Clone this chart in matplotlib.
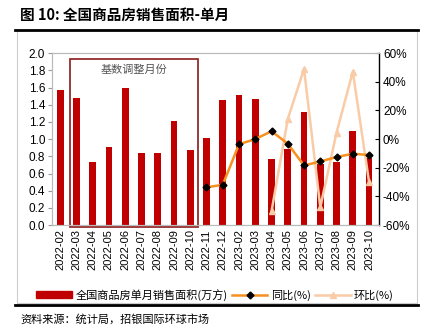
import matplotlib
matplotlib.use("Agg")
import matplotlib.pyplot as plt
from matplotlib.lines import Line2D
from matplotlib.patches import Rectangle
from matplotlib.ticker import FuncFormatter

plt.rcParams["font.family"] = ["Liberation Sans", "Noto Sans CJK SC", "DejaVu Sans"]
CJK = ["Noto Sans CJK SC", "DejaVu Sans"]

# ── data ──────────────────────────────────────────────────────────────
months = ["2022-02", "2022-03", "2022-04", "2022-05", "2022-06", "2022-07",
          "2022-08", "2022-09", "2022-10", "2022-11", "2022-12", "2023-02",
          "2023-03", "2023-04", "2023-05", "2023-06", "2023-07", "2023-08",
          "2023-09", "2023-10"]
area = [1.57, 1.48, 0.73, 0.91, 1.60, 0.835, 0.84, 1.21, 0.87, 1.01,
        1.45, 1.51, 1.47, 0.77, 0.88, 1.31, 0.71, 0.73, 1.09, 0.78]
yoy_months = months[9:]
yoy = [-0.336, -0.319, -0.036, 0.0, 0.055, -0.032, -0.184, -0.156,
       -0.125, -0.102, -0.111]
mom_months = months[13:]
mom = [-0.504, 0.14, 0.49, -0.476, 0.046, 0.47, -0.30]

BAR = "#C00000"
YOY = "#F7901E"
MOM = "#F9CBA6"

fig = plt.figure(figsize=(4.30, 3.34), dpi=100)
ax = fig.add_axes([0.121, 0.326, 0.760, 0.515])
ax2 = ax.twinx()

x = list(range(len(months)))
ax.bar(x, area, width=0.42, color=BAR, zorder=2)

ax2.plot([months.index(m) for m in mom_months], mom, color=MOM, lw=1.8,
         marker="^", ms=5, mfc=MOM, mec=MOM, zorder=3)
ax2.plot([months.index(m) for m in yoy_months], yoy, color=YOY, lw=1.8,
         marker="D", ms=3.5, mfc="black", mec="black", zorder=4)

# base-adjusted months box
ax.add_patch(Rectangle((0.62, -0.02), 7.84, 1.955, fill=False,
                       ec="#8B1A1A", lw=1.2, zorder=5, clip_on=False))
ax.text(4.54, 1.81, "基数调整月份", ha="center", va="center",
        fontsize=8, color="#555555", family=CJK)

ax.set_xlim(-0.5, 19.6)
ax.set_ylim(0, 2.0)
ax.set_yticks([i / 10 for i in range(0, 21, 2)])
ax.yaxis.set_major_formatter(FuncFormatter(lambda v, p: f"{v:.1f}"))
ax.set_xticks(x)
ax.set_xticklabels(months, rotation=90, fontsize=8)
ax.tick_params(axis="y", labelsize=8.5, direction="out", length=3,
               color="#999999", pad=2)
ax.tick_params(axis="x", length=0, pad=3)

ax2.set_ylim(-0.6, 0.6)
ax2.set_yticks([-0.6, -0.4, -0.2, 0, 0.2, 0.4, 0.6])
ax2.yaxis.set_major_formatter(FuncFormatter(lambda v, p: f"{v * 100:.0f}%"))
ax2.tick_params(axis="y", labelsize=8.5, direction="in", length=3,
                color="black", pad=3)

for a in (ax, ax2):
    for s in ("top", "left", "bottom"):
        a.spines[s].set_color("#BBBBBB")
        a.spines[s].set_linewidth(0.8)
ax2.spines["right"].set_color("black")
ax2.spines["right"].set_linewidth(1.0)
ax.spines["right"].set_visible(False)

# legend
handles = [
    Rectangle((0, 0), 1, 1, color=BAR),
    Line2D([], [], color=YOY, lw=1.8, marker="D", ms=3.5, mfc="black", mec="black"),
    Line2D([], [], color=MOM, lw=1.8, marker="^", ms=5, mfc=MOM, mec=MOM),
]
labels = ["全国商品房单月销售面积(万方)", "同比(%)", "环比(%)"]
fig.legend(handles, labels, loc="center", bbox_to_anchor=(0.5, 0.118), ncol=3,
           frameon=False, prop={"family": CJK, "size": 8}, handlelength=3.2,
           handletextpad=0.3, columnspacing=0.4, handleheight=0.6)

# outer frame, title and source
fig.add_artist(Rectangle((0.040, 0.093), 0.930, 0.817, transform=fig.transFigure,
                         fill=False, ec="#CCCCCC", lw=0.8))
fig.add_artist(Line2D([0.035, 0.972], [0.910, 0.910], transform=fig.transFigure,
                      color="black", lw=2.0))
fig.add_artist(Line2D([0.035, 0.972], [0.087, 0.087], transform=fig.transFigure,
                      color="black", lw=2.0))
fig.text(0.047, 0.955, "图 10: 全国商品房销售面积-单月", ha="left", va="center",
         fontsize=10.5, fontweight="bold", family=CJK)
fig.text(0.047, 0.045, "资料来源：统计局，招银国际环球市场", ha="left", va="center",
         fontsize=8, family=CJK)

fig.savefig("out.png", dpi=100)
